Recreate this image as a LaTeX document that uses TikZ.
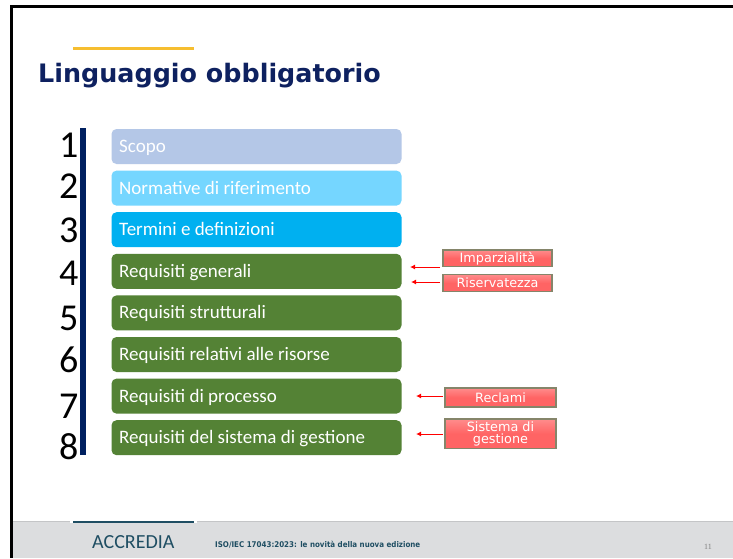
\documentclass[tikz,border=0pt]{standalone}
\usepackage{fontspec}
\setmainfont{Carlito}
\newfontfamily\titlefont{DejaVu Sans}
\newfontfamily\condfont{DejaVu Sans Condensed}
\newfontfamily\numfont{Liberation Serif}
\usetikzlibrary{arrows.meta,calc}
\definecolor{navy}{HTML}{002060}
\definecolor{titleblue}{HTML}{0E2160}
\definecolor{goldline}{HTML}{F6BE30}
\definecolor{boxA}{HTML}{B4C7E7}
\definecolor{boxB}{HTML}{75D6FF}
\definecolor{boxC}{HTML}{00B0F0}
\definecolor{boxG}{HTML}{548235}
\definecolor{redfill}{HTML}{FF6464}
\definecolor{redtop}{HTML}{FF8C8C}
\definecolor{redborder}{HTML}{85856A}
\definecolor{footgray}{HTML}{DCDDDF}
\definecolor{footline}{HTML}{C4C5C7}
\definecolor{teal}{HTML}{1F4E63}
\tikzset{
  secbox/.style={rounded corners=5pt, draw=none},
  sectext/.style={anchor=base west, text=white, font=\fontsize{19}{19}\selectfont, inner sep=0pt},
  numtext/.style={anchor=base west, font=\fontsize{38}{38}\selectfont, inner sep=0pt},
  tagbox/.style={draw=redborder, line width=1.3pt, top color=redtop, bottom color=redfill, middle color=redfill},
  tagtext/.style={text=white, font=\titlefont\fontsize{12.8}{11}\selectfont, align=center, inner sep=0pt},
  redarrow/.style={draw=red, line width=1pt, -{Latex[length=5pt,width=5pt]}}
}
\begin{document}
\begin{tikzpicture}[x=1pt,y=-1pt]
\useasboundingbox (0,0) rectangle (733,558);
\fill[white] (0,0) rectangle (733,558);
% footer band
\fill[footgray] (12,522) rectangle (733,558);
\draw[footline, line width=1.5pt] (12,521.5) -- (733,521.5);
\draw[white, line width=2pt] (70,522) -- (197,522);
\draw[teal, line width=2pt] (73,522) -- (194,522);
% frame
\draw[black, line width=3pt] (10,6.5) -- (733,6.5);
\draw[black, line width=3pt] (11.5,5) -- (11.5,558);
% title
\draw[goldline, line width=3pt] (73,48.5) -- (194,48.5);
\node[anchor=base west, inner sep=0pt, text=titleblue, font=\titlefont\bfseries\fontsize{25.4}{25}\selectfont] (title) at (38,82) {Linguaggio obbligatorio};
% vertical bar
\fill[navy] (80,128) rectangle (85.5,455);
% numbers
\foreach \n/\yb in {1/157,2/198,3/242,4/285,5/330,6/372,7/418,8/459}{
  \node[numtext] (num\n) at (59,\yb) {\n};
}
% section boxes
\foreach \i/\col/\txt in {1/boxA/Scopo,2/boxB/Normative di riferimento,3/boxC/Termini e definizioni,4/boxG/Requisiti generali,5/boxG/Requisiti strutturali,6/boxG/Requisiti relativi alle risorse,7/boxG/Requisiti di processo,8/boxG/Requisiti del sistema di gestione}{
  \pgfmathsetmacro{\yt}{129+41.6*(\i-1)}
  \fill[secbox, fill=\col] (111.5,\yt) rectangle (401.5,\yt+35);
  \coordinate (sec\i) at (401.5,\yt+17.5);
  \node[sectext] (sect\i) at (119,\yt+23.5) {\txt};
}
% tags
\draw[tagbox] (443,250) rectangle (552,266.5);
\node[tagtext] (imp) at (497.5,258.3) {Imparzialità};
\draw[tagbox] (443,274.5) rectangle (552,291.5);
\node[tagtext] (ris) at (497.5,283) {Riservatezza};
\draw[tagbox] (445,388) rectangle (556,407);
\node[tagtext] (recl) at (500.5,397.5) {Reclami};
\draw[tagbox] (445,419) rectangle (556,448.5);
\node[tagtext, font=\titlefont\fontsize{12.8}{12}\selectfont] (sist) at (500.5,433.5) {Sistema di\\gestione};
% arrows
\coordinate (a1s) at (440,267); \coordinate (a1e) at (410,267);
\coordinate (a2s) at (440,282); \coordinate (a2e) at (411,282);
\coordinate (a3s) at (443,396); \coordinate (a3e) at (416,396);
\coordinate (a4s) at (443,434); \coordinate (a4e) at (416,434);
\draw[redarrow] (a1s) -- (a1e);
\draw[redarrow] (a2s) -- (a2e);
\draw[redarrow] (a3s) -- (a3e);
\draw[redarrow] (a4s) -- (a4e);
% footer text
\node[anchor=base west, inner sep=0pt, text=teal, font=\fontsize{20}{20}\selectfont] (acc) at (92,548) {ACCREDIA};
\node[anchor=base west, inner sep=0pt, text=teal, font=\condfont\bfseries\fontsize{7.9}{8}\selectfont] (iso) at (215,547) {ISO/IEC 17043:2023: le novità della nuova edizione};
\node[anchor=base west, inner sep=0pt, text=gray, font=\numfont\fontsize{8}{8}\selectfont] (pg) at (704,549) {11};
\end{tikzpicture}
\end{document}
